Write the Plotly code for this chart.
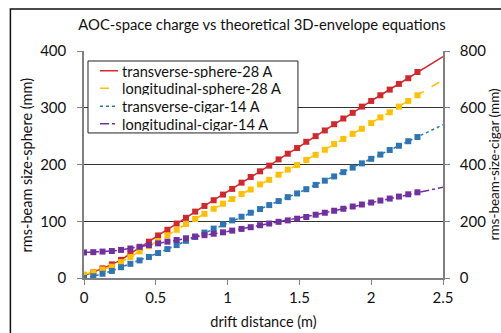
import plotly.graph_objects as go

# drift positions of simulated points (m)
x_sim = [0, 0.065, 0.129, 0.194, 0.258, 0.323, 0.387, 0.452, 0.516, 0.581,
         0.645, 0.710, 0.774, 0.839, 0.903, 0.968, 1.032, 1.097, 1.161, 1.226,
         1.290, 1.355, 1.419, 1.484, 1.548, 1.613, 1.677, 1.742, 1.806, 1.871,
         1.935, 2.000, 2.064, 2.129, 2.193, 2.258, 2.322]
x_end = 2.5

# sphere series (left axis, mm)
transverse_sphere = [4, 10, 17, 24, 32, 43, 53, 64, 75, 85,
                     96, 106, 117, 127, 137, 147, 157, 168, 178, 188,
                     198, 209, 219, 229, 240, 250, 260, 271, 281, 291,
                     302, 312, 322, 332, 342, 352, 363]
transverse_sphere_end = 390
longitudinal_sphere = [6, 10, 15, 20, 28, 37, 47, 56, 65, 75,
                       85, 95, 104, 113, 122, 131, 139, 148, 156, 165,
                       173, 182, 191, 199, 208, 217, 226, 236, 245, 254,
                       263, 273, 283, 292, 302, 312, 322]
longitudinal_sphere_end = 349

# cigar series (right axis, mm)
transverse_cigar = [0, 6, 15, 25, 38, 50, 62, 74, 88, 102,
                    116, 131, 145, 160, 174, 189, 203, 216, 230, 243,
                    257, 271, 285, 298, 313, 328, 343, 358, 373, 389,
                    404, 420, 435, 451, 466, 482, 497]
transverse_cigar_end = 540
longitudinal_cigar = [90, 91, 93, 95, 99, 104, 110, 116, 122, 128,
                      134, 140, 146, 151, 156, 161, 167, 173, 179, 186,
                      192, 198, 203, 209, 215, 223, 230, 237, 244, 252,
                      259, 266, 273, 280, 287, 295, 302]
longitudinal_cigar_end = 320

names = ["transverse-sphere-28 A", "longitudinal-sphere-28 A",
         "transverse-cigar-14 A", "longitudinal-cigar-14 A"]

series = [
    (names[0], transverse_sphere, transverse_sphere_end, "#D2282C", "solid", "y"),
    (names[1], longitudinal_sphere, longitudinal_sphere_end, "#FFC000", "dash", "y"),
    (names[2], transverse_cigar, transverse_cigar_end, "#2E75B6", "dot", "y2"),
    (names[3], longitudinal_cigar, longitudinal_cigar_end, "#7030A0", "dashdot", "y2"),
]

FONT = "Lato"
TXT = "#111"
fig = go.Figure()
for name, vals, end, color, dash, ax in series:
    fig.add_trace(go.Scatter(
        x=x_sim + [x_end], y=vals + [end], mode="lines", name=name,
        showlegend=False,
        line=dict(color=color, width=1.5, dash=dash), yaxis=ax))
for name, vals, end, color, dash, ax in series:
    fig.add_trace(go.Scatter(
        x=x_sim, y=vals, mode="markers", showlegend=False,
        marker=dict(symbol="square", size=6, color=color), yaxis=ax))

fig.update_layout(
    width=501, height=333,
    margin=dict(l=84, r=58, t=51, b=55),
    paper_bgcolor="white", plot_bgcolor="white",
    font=dict(family=FONT, size=15, color=TXT),
    title=dict(text="AOC-space charge vs theoretical 3D-envelope equations",
               x=0.523, xanchor="center", y=0.925, yanchor="middle",
               font=dict(family=FONT, size=14.8, color=TXT)),
    xaxis=dict(range=[0, 2.5], dtick=0.5, showgrid=False, automargin=False,
               showline=True, linecolor="#808080", linewidth=1.5,
               ticks="outside", ticklen=5, tickcolor="#808080",
               title=dict(text="drift distance (m)", standoff=12,
                          font=dict(size=14.5)),
               zeroline=False, tickfont=dict(size=15)),
    yaxis=dict(range=[0, 400], dtick=100, showgrid=True, gridcolor="#333",
               gridwidth=1, showline=True, linecolor="#808080", linewidth=1.5,
               ticks="outside", ticklen=5, tickcolor="#808080",
               zeroline=False, ticklabelstandoff=8, automargin=False,
               tickfont=dict(size=15)),
    yaxis2=dict(range=[0, 800], dtick=200, overlaying="y", side="right",
                showgrid=False, showline=True, linecolor="#808080",
                linewidth=1.5, ticks="outside", ticklen=5, automargin=False,
                tickcolor="#808080", zeroline=False, ticklabelstandoff=7,
                tickfont=dict(size=15)),
    showlegend=False,
)

# axis titles
fig.add_annotation(text="rms-beam size-sphere (mm)", xref="paper", yref="paper",
                   x=-0.159, y=0.5, textangle=-90, showarrow=False,
                   xanchor="center", yanchor="middle",
                   font=dict(family=FONT, size=14.5, color=TXT))
fig.add_annotation(text="rms-beam-size-cigar (mm)", xref="paper", yref="paper",
                   x=1.142, y=0.5, textangle=-90, showarrow=False,
                   xanchor="center", yanchor="middle",
                   font=dict(family=FONT, size=13.5, color=TXT))

# legend drawn as a box with line samples and labels
fig.add_shape(type="rect", xref="paper", yref="paper",
              x0=0.0111, x1=0.596, y0=0.639, y1=0.956,
              fillcolor="white", line=dict(color="#222", width=1))
row_y = [0.913, 0.836, 0.757, 0.679]
for (name, vals, end, color, dash, ax), ry in zip(series, row_y):
    fig.add_shape(type="line", xref="paper", yref="paper",
                  x0=0.0446, x1=0.0947, y0=ry, y1=ry,
                  line=dict(color=color, width=1.5, dash=dash))
    fig.add_annotation(text=name, xref="paper", yref="paper",
                       x=0.1003, y=ry, showarrow=False, height=14,
                       xanchor="left", yanchor="middle",
                       font=dict(family=FONT, size=14.6, color=TXT))

# outer frame of the figure (partly outside the picture)
fig.add_shape(type="rect", xref="paper", yref="paper",
              x0=-0.205, x1=1.25, y0=-0.35, y1=1.185,
              line=dict(color="#111", width=1.5), layer="below")

fig.write_html("out.html")
